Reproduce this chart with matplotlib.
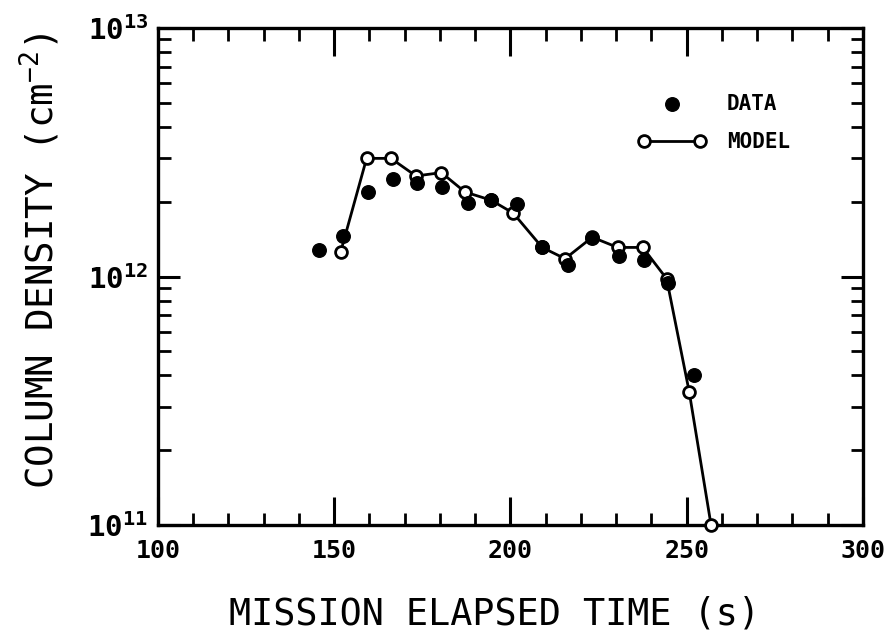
import matplotlib
matplotlib.use('Agg')
import matplotlib.pyplot as plt
from matplotlib.ticker import FixedLocator, FuncFormatter, LogLocator, NullFormatter
import numpy as np

# Datos
t_data = [145.7, 152.6, 159.7, 166.8, 173.6, 180.6, 187.9, 194.5,
          201.9, 209.0, 216.2, 223.2, 230.8, 237.9, 244.8, 252.1]
n_data = [1.28e12, 1.45e12, 2.19e12, 2.46e12, 2.37e12, 2.30e12, 1.97e12, 2.03e12,
          1.95e12, 1.31e12, 1.11e12, 1.43e12, 1.21e12, 1.17e12, 0.94e12, 4.02e11]

t_model = [151.8, 159.2, 166.1, 173.2, 180.4, 187.1, 194.5, 200.8,
           209.0, 215.5, 223.2, 230.4, 237.5, 244.3, 250.7, 256.9]
n_model = [1.25e12, 2.99e12, 2.99e12, 2.54e12, 2.62e12, 2.19e12, 2.03e12, 1.80e12,
           1.31e12, 1.18e12, 1.44e12, 1.31e12, 1.31e12, 0.98e12, 3.44e11, 1.0e11]

x_ticks = [100, 150, 200, 250, 300]

plt.rcParams['font.family'] = ['DejaVu Sans Mono']
plt.rcParams['mathtext.fontset'] = 'custom'
plt.rcParams['mathtext.rm'] = 'DejaVu Sans Mono'
plt.rcParams['mathtext.it'] = 'DejaVu Sans Mono'
plt.rcParams['mathtext.bf'] = 'DejaVu Sans Mono:bold'

fig = plt.figure(figsize=(8.92, 6.38), dpi=100)
ax = fig.add_axes([0.177, 0.177, 0.7905, 0.779])

linea, = ax.plot(t_model, n_model, '-', color='black', lw=2.0, marker='o', ms=8.5,
                 mfc='white', mec='black', mew=2.0, label='MODEL', clip_on=False, zorder=3)
puntos = ax.scatter(t_data, n_data, s=95, color='black', label='DATA', zorder=4)

ax.set_yscale('log')
ax.set_xlim(100, 300)
ax.set_ylim(1e11, 1e13)

ax.xaxis.set_major_locator(FixedLocator(x_ticks))
ax.xaxis.set_minor_locator(FixedLocator(np.arange(100, 301, 10)))
ax.yaxis.set_major_locator(LogLocator(base=10, numticks=5))
ax.yaxis.set_minor_locator(LogLocator(base=10, subs=np.arange(2, 10), numticks=20))
ax.yaxis.set_minor_formatter(NullFormatter())
ax.yaxis.set_major_formatter(FuncFormatter(
    lambda v, p: r'$\mathbf{10^{%d}}$' % int(round(np.log10(v)))))

ax.tick_params(which='both', direction='in', top=True, right=True, color='black')
ax.tick_params(which='major', length=20, width=2.2, labelsize=18, pad=10)
ax.tick_params(which='minor', length=9, width=2.0)
ax.tick_params(axis='y', which='major', length=16, pad=7, labelsize=21)
for lab in ax.get_xticklabels():
    lab.set_fontweight('bold')

for s in ax.spines.values():
    s.set_linewidth(2.4)

ax.set_xlabel('MISSION ELAPSED TIME (s)', fontsize=26.5)
ax.xaxis.set_label_coords(0.477, -0.141)
ax.set_ylabel(r'COLUMN DENSITY (cm$^{\mathregular{-2}}$)', fontsize=27)
ax.yaxis.set_label_coords(-0.136, 0.531)

ax.legend([puntos, linea], ['DATA', 'MODEL'], loc='upper right',
          bbox_to_anchor=(0.923, 0.906), frameon=False,
          numpoints=2, scatterpoints=1, handlelength=3.3, handletextpad=1.0,
          labelspacing=0.9, prop={'size': 15, 'weight': 'bold'})

fig.savefig('out.png', dpi=100)
plt.close(fig)
